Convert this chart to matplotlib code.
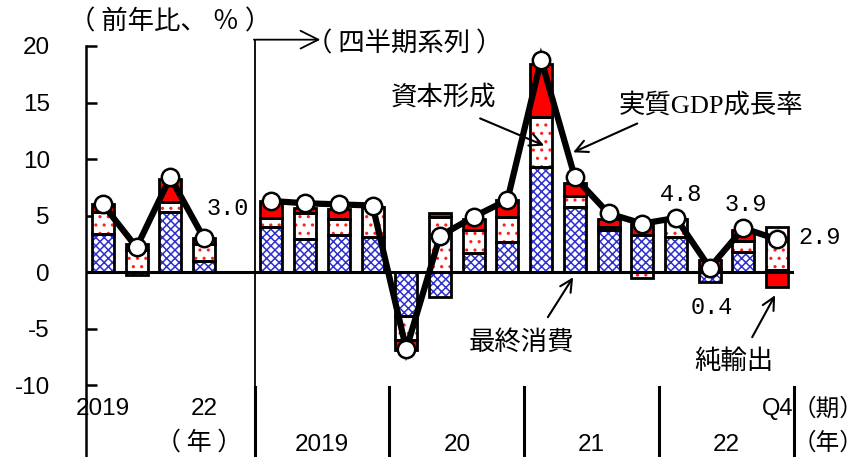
import matplotlib
matplotlib.use('Agg')
import matplotlib.pyplot as plt
import numpy as np

plt.rcParams['font.family'] = ['Liberation Sans', 'Noto Sans CJK JP']
plt.rcParams['hatch.linewidth'] = 1.1

# ---------------- data (contribution, %pt ; GDP growth, % y/y) ----------------
annual_labels = ['2019', '22']
annual_consumption = [3.4, -0.2, 5.3, 1.0]
annual_capital = [1.9, 2.0, 0.9, 1.5]
annual_net_exports = [0.7, 0.5, 2.0, 0.5]
annual_gdp = [6.0, 2.2, 8.4, 3.0]

quarter_years = ['2019', '20', '21', '22']
q_consumption = [4.0, 2.9, 3.3, 3.1, -3.9, -2.2, 1.7, 2.7, 9.3, 5.8, 3.7, 3.3, 3.1, -0.85, 1.8, 0.2]
q_capital = [0.8, 2.3, 1.4, 2.7, -2.1, 4.9, 2.0, 2.2, 4.4, 0.9, 0.3, -0.5, 1.6, 0.3, 1.0, 3.8]
q_net_exports = [1.5, 0.5, 0.9, 0.0, -0.9, 0.3, 1.0, 1.5, 4.7, 1.2, 0.7, 1.0, 0.0, 0.75, 0.9, -1.3]
q_gdp = [6.3, 6.1, 6.0, 5.9, -6.8, 3.2, 4.9, 6.4, 18.8, 8.4, 5.2, 4.3, 4.8, 0.4, 3.9, 2.9]

yticks = [-10, -5, 0, 5, 10, 15, 20]
ytick_labels = ['-10', '-5', '0', '5', '10', '15', '20']

# ---------------- figure ----------------
W, H = 865, 457
fig = plt.figure(figsize=(W / 100, H / 100), dpi=100)
ax = fig.add_axes([86 / W, 0, 708 / W, 411 / H])
ax.set_xlim(-0.5, 20.5)
ax.set_ylim(-16.33, 20)

xa = np.arange(len(annual_gdp))
xq = len(annual_gdp) + 1 + np.arange(len(q_gdp))

CJK = ['Noto Sans CJK JP']
MONO = ['Liberation Mono']

styles = [
    dict(color='white', edgecolor='#3030D0', hatch='xxxx', linewidth=0),  # 最終消費
    dict(color='white', edgecolor='#FF2020', hatch='..', linewidth=0),    # 資本形成
    dict(color='#FF0000', edgecolor='#FF0000', linewidth=0),              # 純輸出
]
BW = 0.65


def draw_stack(xs, series):
    pos = np.zeros(len(xs))
    neg = np.zeros(len(xs))
    for vals, st in zip(series, styles):
        v = np.asarray(vals, dtype=float)
        bottoms = np.where(v >= 0, pos, neg)
        ax.bar(xs, v, bottom=bottoms, width=BW, zorder=2, **st)
        ax.bar(xs, v, bottom=bottoms, width=BW, fill=False, edgecolor='black',
               linewidth=2.0, zorder=2.5)
        pos += np.clip(v, 0, None)
        neg += np.clip(v, None, 0)


draw_stack(xa, [annual_consumption, annual_capital, annual_net_exports])
draw_stack(xq, [q_consumption, q_capital, q_net_exports])

ax.axhline(0, color='black', lw=2.2, zorder=3)

for xs, ys in [(xa, annual_gdp), (xq, q_gdp)]:
    ax.plot(xs, ys, color='black', lw=4.5, zorder=5, solid_joinstyle='miter')
    ax.plot(xs, ys, 'o', ms=12.5, mfc='white', mec='black', mew=1.8, zorder=6)

# axes styling
for s in ['top', 'right', 'bottom']:
    ax.spines[s].set_visible(False)
ax.spines['left'].set_linewidth(1.8)
ax.set_xticks([])
ax.set_yticks(yticks)
ax.set_yticklabels(ytick_labels, fontsize=17.5, family=['Liberation Sans'])
ax.tick_params(axis='y', direction='in', length=8, width=1.8, pad=26)

# separators
sep_x = [len(annual_gdp) + 0.5] + [xq[i] + 3.5 for i in range(0, len(q_gdp), 4)]
for sx in sep_x:
    ax.plot([sx, sx], [-10.1, -16.33], color='black', lw=2.2, clip_on=False, zorder=4)
ax.plot([sep_x[0], sep_x[0]], [20.56, -10.1], color='black', lw=1.3, clip_on=False, zorder=4)
ax.annotate('', xy=(6.45, 20.56), xytext=(sep_x[0] - 0.02, 20.56),
            arrowprops=dict(arrowstyle='->', lw=1.3, mutation_scale=32, color='black',
                            shrinkA=0, shrinkB=0),
            annotation_clip=False)

# headers
ax.text(2.0, 22.1, '（ 前年比、 ％ ）', fontsize=19, family=CJK, ha='center', va='center', clip_on=False)
ax.text(8.95, 20.2, '（ 四半期系列 ）', fontsize=19, family=CJK, ha='center', va='center', clip_on=False)

# category labels
ax.text(xa[0], -12.1, annual_labels[0], fontsize=17.5, ha='center', va='center', family=['Liberation Sans'])
ax.text(xa[-1], -12.1, annual_labels[1], fontsize=17.5, ha='center', va='center', family=['Liberation Sans'])
ax.text(2.85, -15.1, '（ 年 ）', fontsize=18, family=CJK, ha='center', va='center')
for i, yl in enumerate(quarter_years):
    ax.text(xq[4 * i:4 * i + 4].mean(), -15.3, yl, fontsize=17.5, ha='center', va='center',
            family=['Liberation Sans'])
ax.text(xq[-1], -12.1, 'Q4', fontsize=17, ha='center', va='center', family=['Liberation Sans'])
ax.text(21.5, -12.1, '（期）', fontsize=17, family=CJK, ha='center', va='center', clip_on=False)
ax.text(21.5, -15.1, '（年）', fontsize=17, family=CJK, ha='center', va='center', clip_on=False)

# value labels
ax.text(3.7, 5.6, f'{annual_gdp[-1]:.1f}', fontsize=17, family=MONO, ha='center', va='center')
ax.text(17.15, 6.9, f'{q_gdp[12]:.1f}', fontsize=17, family=MONO, ha='center', va='center')
ax.text(18.07, -3.1, f'{q_gdp[13]:.1f}', fontsize=17, family=MONO, ha='center', va='center')
ax.text(19.08, 6.0, f'{q_gdp[14]:.1f}', fontsize=17, family=MONO, ha='center', va='center')
ax.text(21.25, 3.1, f'{q_gdp[15]:.1f}', fontsize=17, family=MONO, ha='center', va='center', clip_on=False)

# callouts
arr = dict(arrowstyle='->', lw=1.5, mutation_scale=22, color='black', shrinkA=0, shrinkB=0)
ax.text(10.12, 15.45, '資本形成', fontsize=19, family=CJK, ha='center', va='center')
ax.annotate('', xy=(13.09, 11.2), xytext=(11.19, 13.6), arrowprops=arr)
ax.text(18.04, 14.8, '実質GDP成長率', fontsize=19, family=['Liberation Serif', 'Noto Sans CJK JP'],
        ha='center', va='center')
ax.annotate('', xy=(13.95, 10.6), xytext=(15.85, 13.15), arrowprops=arr)
ax.text(12.43, -6.2, '最終消費', fontsize=19, family=CJK, ha='center', va='center')
ax.annotate('', xy=(13.95, -0.44), xytext=(13.2, -3.97), arrowprops=arr)
ax.text(18.72, -7.9, '純輸出', fontsize=19, family=CJK, ha='center', va='center')
ax.annotate('', xy=(19.94, -2.03), xytext=(19.26, -5.74), arrowprops=arr)

fig.savefig('out.png', dpi=100)
